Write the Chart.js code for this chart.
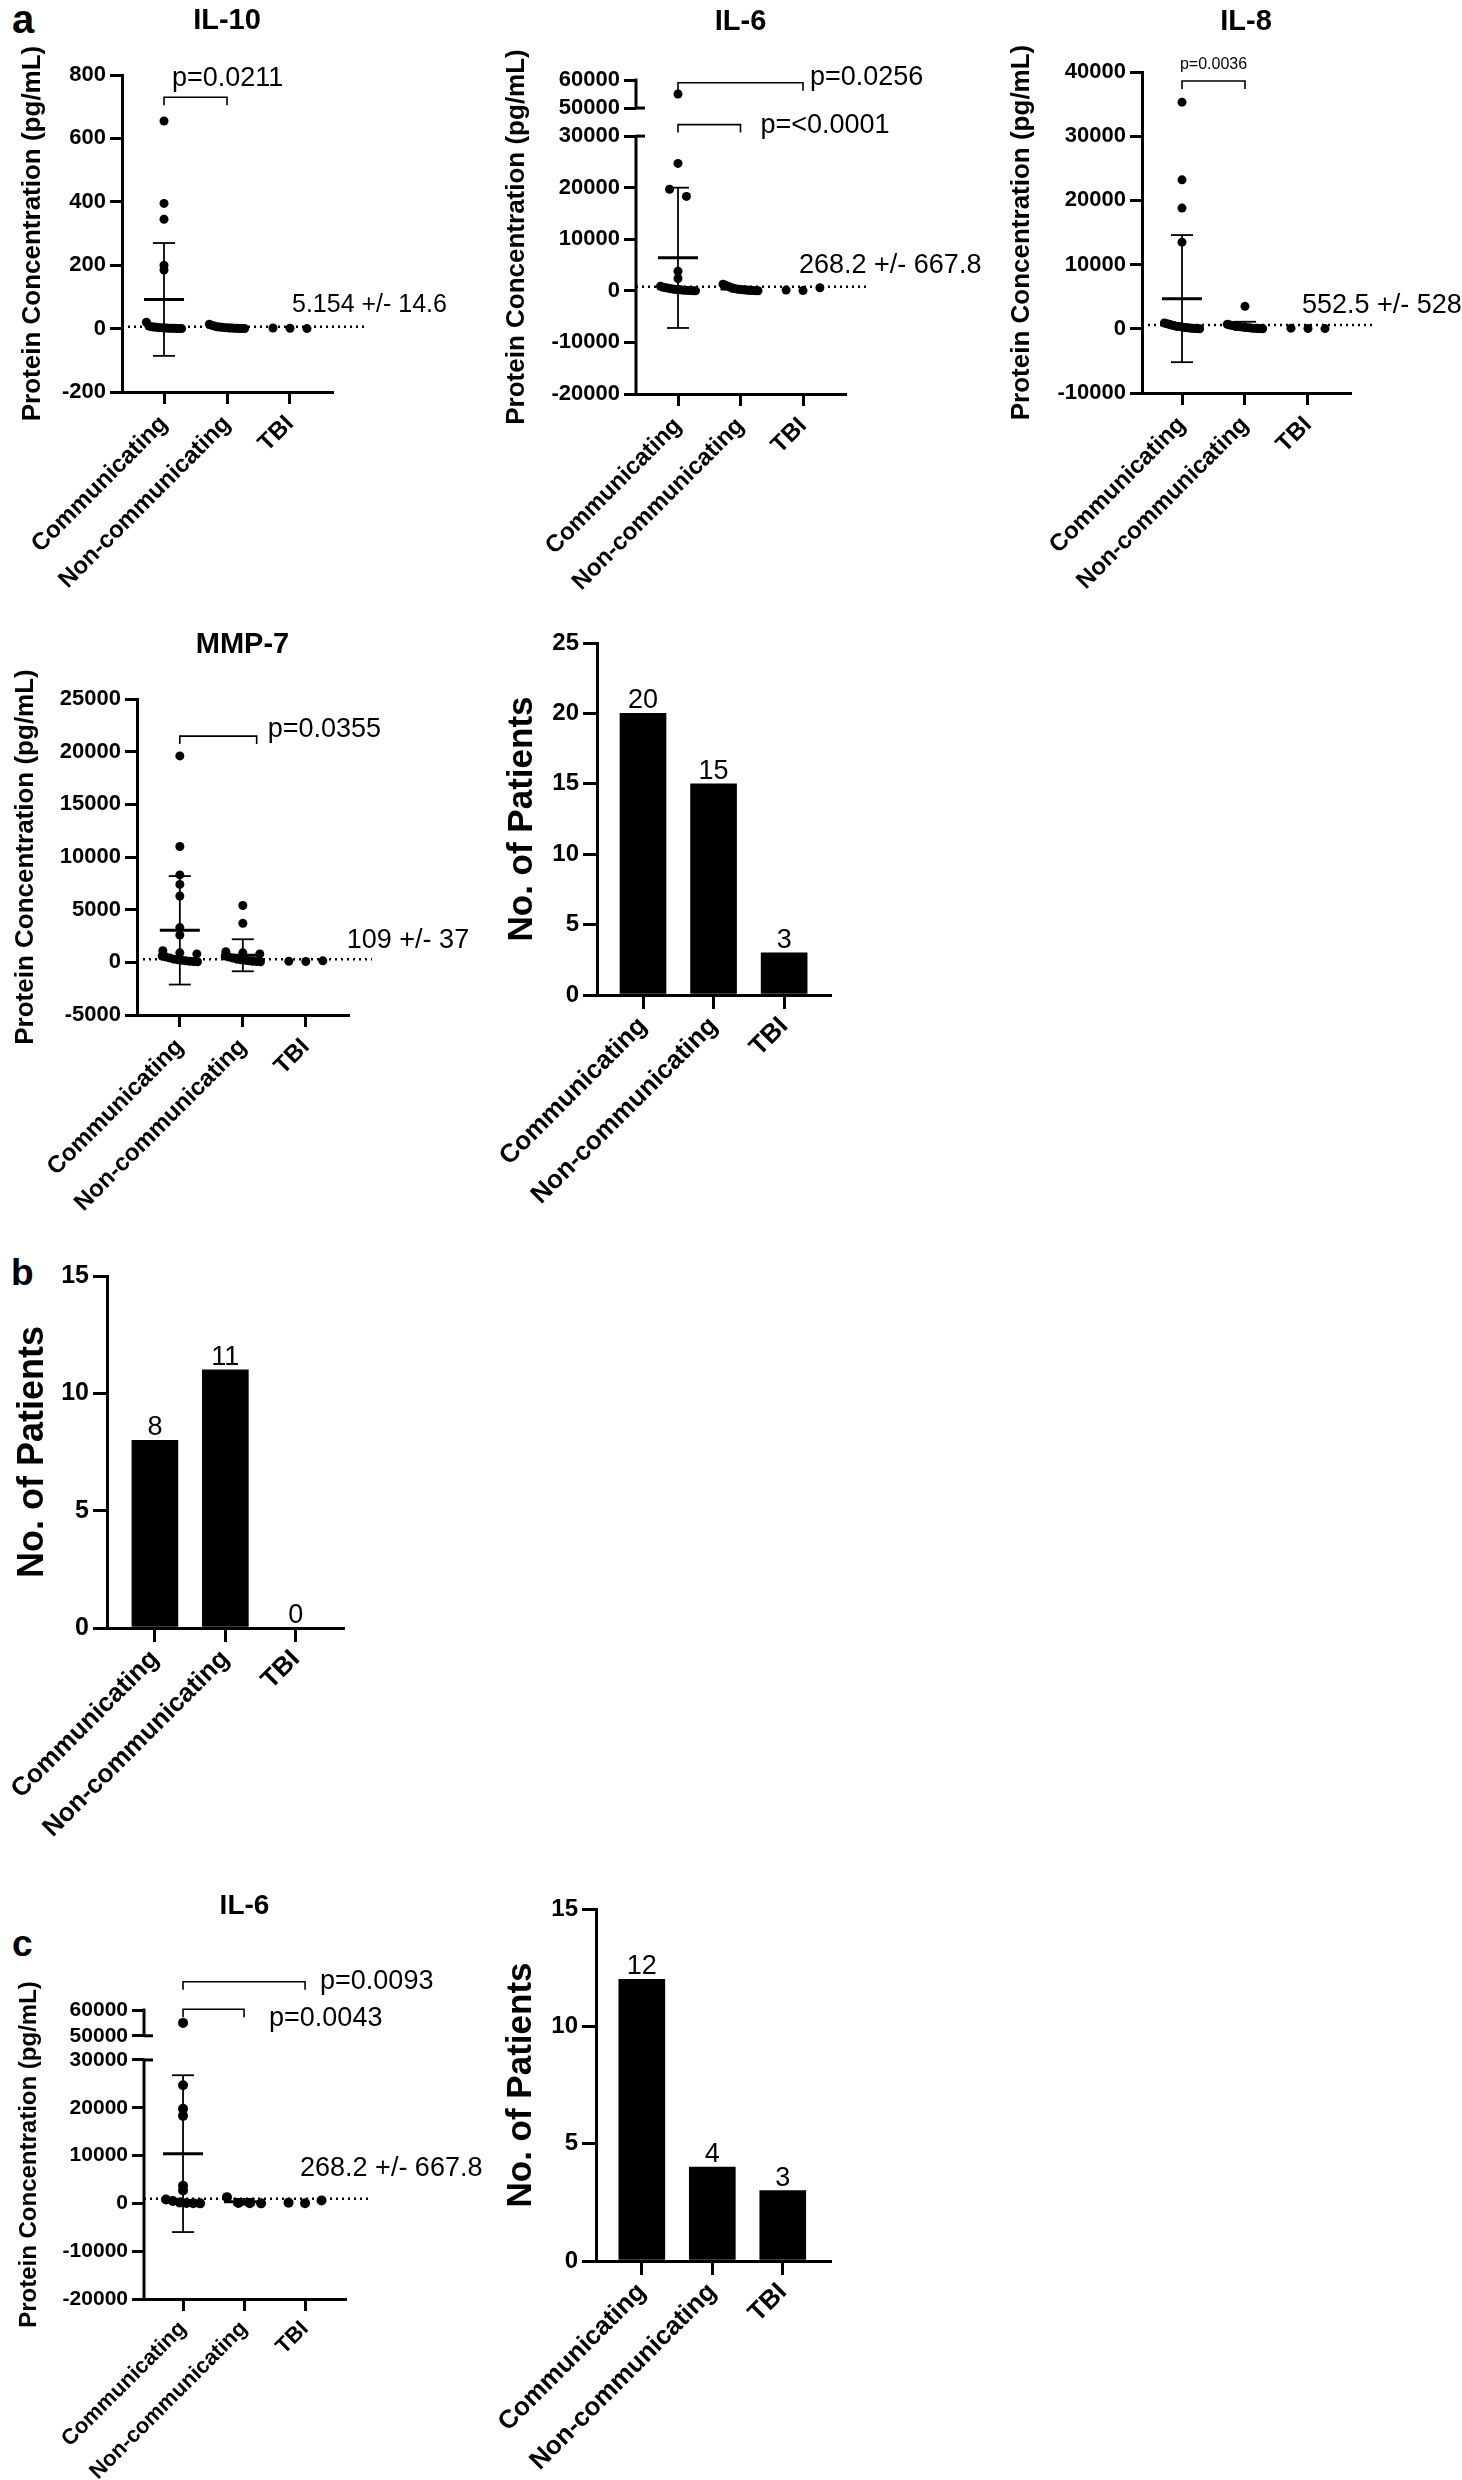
<!DOCTYPE html>
<html>
<head>
<meta charset="utf-8">
<title>Protein concentration and patient counts</title>
<script src="https://cdn.jsdelivr.net/npm/chart.js@4.4.1/dist/chart.umd.min.js"></script>
<style>
  html, body { margin: 0; padding: 0; background: #fff; }
  #page { position: relative; width: 1462px; height: 2480px; overflow: hidden; background: #fff; }
  #page canvas { position: absolute; }
  .tag { position: absolute; font-family: "Liberation Sans", Arial, sans-serif; font-weight: bold; line-height: 1; color: #000; }
</style>
</head>
<body>
<div id="page">
  <div class="tag" style="left:12px;top:-1px;font-size:40px">a</div>
  <div class="tag" style="left:11px;top:1254px;font-size:37px">b</div>
  <div class="tag" style="left:12px;top:1925px;font-size:37px">c</div>
</div>
<script>
const groups = ['Communicating', 'Non-communicating', 'TBI'];

// a: IL-10 (pg/mL), one value per patient
const il10Comm = [655, 395, 345, 200, 185, 20, 8, 6, 5, 4, 3, 3, 2, 2, 1, 1, 1, 0, 0, 0];
const il10NonComm = [14, 10, 8, 6, 5, 4, 3, 3, 2, 2, 1, 1, 0, 0, 0];
const il10Tbi = [2, 1, 0];
const il10Mean = [92, 4, null];
const il10Sd = [178, 4, null];
const il10Ticks = [-200, 0, 200, 400, 600, 800];

// a: IL-6
const il6Comm = [55000, 24700, 19700, 18300, 3800, 2400, 900, 700, 600, 500, 400, 300, 250, 200, 150, 100, 80, 50, 30, 10];
const il6NonComm = [1300, 1100, 900, 700, 500, 400, 300, 250, 200, 150, 100, 80, 50, 30, 10];
const il6Tbi = [150, 50, 600];
const il6Mean = [6400, 350, null];
const il6Sd = [13600, 450, null];
const il6Ticks = [-20000, -10000, 0, 10000, 20000, 30000, 50000, 60000];

// a: IL-8
const il8Comm = [35300, 23200, 18800, 13500, 900, 800, 700, 600, 500, 400, 350, 300, 250, 200, 150, 100, 80, 50, 30, 10];
const il8NonComm = [3500, 700, 600, 500, 400, 350, 300, 250, 200, 150, 100, 80, 50, 30, 10];
const il8Tbi = [100, 50, 30];
const il8Mean = [4700, 450, null];
const il8Sd = [9900, 650, null];
const il8Ticks = [-10000, 0, 10000, 20000, 30000, 40000];

// a: MMP-7
const mmp7Comm = [19600, 11000, 8300, 7400, 6300, 3300, 2600, 1100, 900, 800, 600, 500, 400, 300, 250, 200, 150, 100, 80, 50];
const mmp7NonComm = [5400, 3700, 1000, 900, 800, 600, 500, 400, 300, 250, 200, 150, 100, 80, 50];
const mmp7Tbi = [100, 80, 140];
const mmp7Mean = [3040, 670, null];
const mmp7Sd = [5150, 1520, null];
const mmp7Ticks = [-5000, 0, 5000, 10000, 15000, 20000, 25000];

// c: IL-6
const il6cComm = [55000, 24700, 19800, 18300, 3700, 2700, 800, 500, 200, 100, 50, 0];
const il6cNonComm = [1300, 100, 50, 0];
const il6cTbi = [150, 50, 600];
const il6cMean = [10400, 350, null];
const il6cSd = [16400, 600, null];

// patient counts
const patientsA = [20, 15, 3];
const patientsB = [8, 11, 0];
const patientsC = [12, 4, 3];
const patientTicks25 = [0, 5, 10, 15, 20, 25];
const patientTicks15 = [0, 5, 10, 15];

const FONT = '"Liberation Sans", Arial, Helvetica, sans-serif';
Chart.defaults.font.family = FONT;
Chart.defaults.color = '#000';

const same = v => v;
// squeezes the 30000..50000 gap of the broken IL-6 axes
function brokenAxis(b) {
  return v => v <= b.lo ? v : v >= b.hi ? b.lo + b.gap + (v - b.hi) * b.k : b.lo + (v - b.lo) / (b.hi - b.lo) * b.gap;
}

const concTitle = 'Protein Concentration (pg/mL)';
const panels = [
  { kind: 'dots', box: [0, 0, 480, 600], area: [122, 75, 332, 392], xRange: [-0.667, 2.667],
    series: [il10Comm, il10NonComm, il10Tbi], means: il10Mean, sds: il10Sd,
    yMin: -200, yMax: 800, yTicks: il10Ticks, title: 'IL-10', titleY: 19, yTitleX: 33,
    dotted: { y: 6, to: 3.19 }, stat: { text: '5.154 +/- 14.6', dx: 2, dy: 24, size: 25 },
    brackets: [{ from: 0, to: 1, y: 730, text: 'p=0.0211', anchor: 'start', dx: 8, dy: -21 }] },
  { kind: 'dots', box: [480, 0, 1000, 600], area: [636, 80, 845, 394], xRange: [-0.672, 2.672],
    series: [il6Comm, il6NonComm, il6Tbi], means: il6Mean, sds: il6Sd,
    yMin: -20000, yMax: 60000, yTicks: il6Ticks, brk: { lo: 30000, hi: 50000, gap: 5437, k: 0.5437 },
    title: 'IL-6', titleY: 20, yTitleX: 517,
    dotted: { y: 800, to: 3.07 }, stat: { text: '268.2 +/- 667.8', dx: -4, dy: 23, size: 27 },
    brackets: [{ from: 0, to: 2, y: 59000, text: 'p=0.0256', anchor: 'end', dx: 7, dy: -7 },
               { from: 0, to: 1, y: 38200, text: 'p=<0.0001', anchor: 'end', dx: 20, dy: -1 }] },
  { kind: 'dots', box: [990, 0, 1462, 600], area: [1142, 72, 1350, 393], xRange: [-0.635, 2.667],
    series: [il8Comm, il8NonComm, il8Tbi], means: il8Mean, sds: il8Sd,
    yMin: -10000, yMax: 40000, yTicks: il8Ticks, title: 'IL-8', titleY: 20, yTitleX: 1022,
    dotted: { y: 600, to: 3.03 }, stat: { text: '552.5 +/- 528', dx: -6, dy: 22, size: 27 },
    brackets: [{ from: 0, to: 1, y: 38600, text: 'p=0.0036', anchor: 'mid', dx: 0, dy: -18, size: 16 }] },
  { kind: 'dots', box: [0, 600, 480, 1220], area: [137, 699, 348, 1015], xRange: [-0.68, 2.67],
    series: [mmp7Comm, mmp7NonComm, mmp7Tbi], means: mmp7Mean, sds: mmp7Sd,
    yMin: -5000, yMax: 25000, yTicks: mmp7Ticks, title: 'MMP-7', titleY: 643, yTitleX: 26,
    dotted: { y: 290, to: 3.05 }, stat: { text: '109 +/- 37', dx: 41, dy: 21, size: 27 },
    brackets: [{ from: 0, to: 1.22, y: 21480, text: 'p=0.0355', anchor: 'end', dx: 11, dy: -9 }] },
  { kind: 'dots', box: [0, 1870, 495, 2480], area: [144, 2010, 345, 2299], xRange: [-0.64, 2.655],
    series: [il6cComm, il6cNonComm, il6cTbi], means: il6cMean, sds: il6cSd,
    yMin: -20000, yMax: 60000, yTicks: il6Ticks, brk: { lo: 30000, hi: 50000, gap: 5052, k: 0.539 },
    title: 'IL-6', titleY: 1904, titleSize: 28, yTitleX: 29, yTitleSize: 24, yFont: 21, xFont: 22, xPad: 5, r: 5,
    dotted: { y: 960, to: 3.06 }, stat: { text: '268.2 +/- 667.8', dx: -5, dy: 32, size: 27 },
    brackets: [{ from: 0, to: 2, y: 70960, text: 'p=0.0093', anchor: 'end', dx: 15, dy: -2 },
               { from: 0, to: 1, y: 60270, text: 'p=0.0043', anchor: 'end', dx: 25, dy: 7 }] },
  { kind: 'bars', box: [480, 600, 900, 1230], area: [597, 643, 830, 995], xRange: [-0.652, 2.65],
    counts: patientsA, yMin: 0, yMax: 25, yTicks: patientTicks25, yTitleX: 522, yTitleSize: 35, yFont: 24 },
  { kind: 'bars', box: [0, 1230, 460, 1870], area: [107, 1276, 343, 1628], xRange: [-0.68, 2.67],
    counts: patientsB, yMin: 0, yMax: 15, yTicks: patientTicks15, yTitleX: 33, yTitleSize: 36, yFont: 25 },
  { kind: 'bars', box: [480, 1870, 900, 2480], area: [596, 1909, 830, 2261], xRange: [-0.65, 2.67],
    counts: patientsC, yMin: 0, yMax: 15, yTicks: patientTicks15, yTitleX: 521, yTitleSize: 35, yFont: 24 }
];

function seg(ctx, x1, y1, x2, y2) {
  ctx.beginPath(); ctx.moveTo(x1, y1); ctx.lineTo(x2, y2); ctx.stroke();
}
function label(ctx, text, x, yMid, size, weight, align) {
  ctx.font = (weight || 'normal') + ' ' + size + 'px ' + FONT;
  ctx.textAlign = align || 'left';
  ctx.textBaseline = 'alphabetic';
  ctx.fillStyle = '#000';
  ctx.fillText(text, x, yMid + 0.358 * size);
}

// dots sharing a value band sit side by side, as in a scatter dot plot
function swarm(values, group, bin) {
  const rows = new Map();
  values.forEach((v, k) => {
    const key = Math.floor(v / bin);
    if (!rows.has(key)) rows.set(key, []);
    rows.get(key).push(k);
  });
  const pts = [];
  rows.forEach(ks => {
    const step = ks.length > 1 ? Math.min(0.27, 0.56 / (ks.length - 1)) : 0;
    ks.forEach((k, j) => pts.push({ x: group + (j - (ks.length - 1) / 2) * step, y: values[k] }));
  });
  return pts;
}

function axes(p, t) {
  const bars = p.kind === 'bars';
  const tickLen = bars ? 14 : 12;
  const titleSize = p.yTitleSize || 26;
  const grid = { drawOnChartArea: false, drawTicks: true, tickLength: tickLen, lineWidth: 3, color: '#000', offset: false };
  return {
    x: {
      type: 'linear', min: p.xRange[0], max: p.xRange[1], offset: false,
      afterBuildTicks: s => { s.ticks = groups.map((g, i) => ({ value: i })); },
      afterFit: s => { s.height = p.box[3] - p.area[3]; s.paddingLeft = 0; s.paddingRight = 0; },
      ticks: { autoSkip: false, minRotation: 45, maxRotation: 45, padding: p.xPad || (bars ? 2 : 6),
        font: { size: p.xFont || (bars ? 26 : 24), weight: 'bold' }, callback: v => groups[v] },
      grid: grid,
      border: { display: true, color: '#000', width: 3 }
    },
    y: {
      type: 'linear', min: t(p.yMin), max: t(p.yMax),
      afterBuildTicks: s => { s.ticks = p.yTicks.map(v => ({ value: t(v) })); },
      afterFit: s => { s.width = p.area[0] - p.box[0]; s.paddingTop = 0; s.paddingBottom = 0; },
      ticks: { autoSkip: false, padding: 4, font: { size: p.yFont || 22, weight: 'bold' },
        callback: (v, i) => String(p.yTicks[i]) },
      grid: grid,
      border: { display: !p.brk, color: '#000', width: 3 },
      title: { display: true, text: bars ? 'No. of Patients' : concTitle,
        font: { size: titleSize, weight: 'bold' },
        padding: { top: p.yTitleX - p.box[0] - 0.6 * titleSize, bottom: 0 } }
    }
  };
}

function decor(p, t) {
  return {
    id: 'decor',
    afterDraw(chart) {
      const { ctx, chartArea: a, scales: { x, y } } = chart;
      const py = v => y.getPixelForValue(t(v));
      ctx.save();
      ctx.strokeStyle = '#000';
      ctx.lineCap = 'butt';
      if (p.title) label(ctx, p.title, (a.left + a.right) / 2, p.titleY - p.box[1], p.titleSize || 29, 'bold', 'center');

      if (p.brk) {
        const yBrk = py(p.brk.lo), yUp = py(p.brk.hi);
        ctx.lineWidth = 3;
        seg(ctx, a.left, a.bottom + 1.5, a.left, yBrk);
        seg(ctx, a.left, yUp, a.left, a.top - 1.5);
        seg(ctx, a.left, yBrk, a.left + 9, yBrk);
        seg(ctx, a.left, yUp, a.left + 9, yUp);
      }

      if (p.means) {
        p.means.forEach((m, i) => {
          if (m == null) return;
          const cx = x.getPixelForValue(i), ym = py(m);
          const sd = p.sds[i];
          if (sd != null) {
            const yt = py(m + sd), yb = py(m - sd);
            ctx.lineWidth = 1.8;
            seg(ctx, cx, yt, cx, yb);
            seg(ctx, cx - 11, yt, cx + 11, yt);
            seg(ctx, cx - 11, yb, cx + 11, yb);
          }
          ctx.lineWidth = 3;
          seg(ctx, cx - 20, ym, cx + 20, ym);
        });
      }

      if (p.dotted) {
        const yd = py(p.dotted.y);
        ctx.lineWidth = 2.5;
        ctx.setLineDash([2, 4]);
        seg(ctx, a.left, yd, x.getPixelForValue(p.dotted.to), yd);
        ctx.setLineDash([]);
        if (p.stat) label(ctx, p.stat.text, x.getPixelForValue(2) + p.stat.dx, yd - p.stat.dy, p.stat.size);
      }

      (p.brackets || []).forEach(b => {
        const x1 = x.getPixelForValue(b.from), x2 = x.getPixelForValue(b.to), yy = py(b.y);
        ctx.lineWidth = 1.6;
        ctx.beginPath();
        ctx.moveTo(x1, yy + 8); ctx.lineTo(x1, yy); ctx.lineTo(x2, yy); ctx.lineTo(x2, yy + 8);
        ctx.stroke();
        const ax = b.anchor === 'start' ? x1 : b.anchor === 'mid' ? (x1 + x2) / 2 : x2;
        label(ctx, b.text, ax + b.dx, yy + b.dy, b.size || 27, 'normal', b.anchor === 'mid' ? 'center' : 'left');
      });

      if (p.counts) {
        chart.getDatasetMeta(0).data.forEach((bar, i) => {
          ctx.font = '27px ' + FONT;
          ctx.textAlign = 'center';
          ctx.textBaseline = 'alphabetic';
          ctx.fillStyle = '#000';
          ctx.fillText(String(p.counts[i]), bar.x, bar.y - 5);
        });
      }
      ctx.restore();
    }
  };
}

panels.forEach(p => {
  const canvas = document.createElement('canvas');
  const w = p.box[2] - p.box[0], h = p.box[3] - p.box[1];
  canvas.width = w; canvas.height = h;
  canvas.style.left = p.box[0] + 'px'; canvas.style.top = p.box[1] + 'px';
  canvas.style.width = w + 'px'; canvas.style.height = h + 'px';
  document.getElementById('page').appendChild(canvas);

  const t = p.brk ? brokenAxis(p.brk) : same;
  let type, datasets;
  if (p.kind === 'dots') {
    const bin = (t(p.yMax) - t(p.yMin)) * 0.025;
    type = 'scatter';
    datasets = p.series.map((vals, i) => ({
      data: swarm(vals.map(t), i, bin),
      pointRadius: p.r || 4.5, pointHoverRadius: p.r || 4.5,
      pointBackgroundColor: '#000', pointBorderWidth: 0, showLine: false, clip: false
    }));
  } else {
    type = 'bar';
    datasets = [{ data: p.counts.map((v, i) => ({ x: i, y: v })), backgroundColor: '#000',
      borderWidth: 0, barThickness: 46 }];
  }

  new Chart(canvas, {
    type: type,
    data: { datasets: datasets },
    options: {
      responsive: false, animation: false, devicePixelRatio: 1,
      layout: { padding: { left: 0, top: p.area[1] - p.box[1], right: p.box[2] - p.area[2], bottom: 0 } },
      plugins: { legend: { display: false }, tooltip: { enabled: false } },
      scales: axes(p, t)
    },
    plugins: [decor(p, t)]
  });
});
</script>
</body>
</html>
